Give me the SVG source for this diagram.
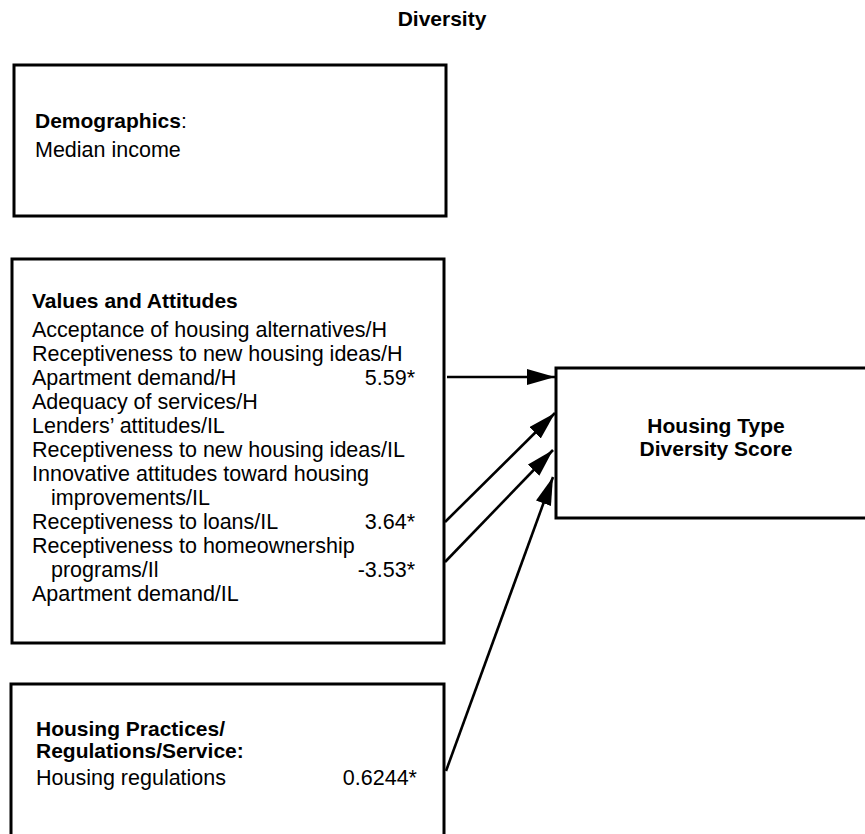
<svg xmlns="http://www.w3.org/2000/svg" width="865" height="834" viewBox="0 0 865 834">
<defs>
<style>
.box{fill:#fff;stroke:#000;stroke-width:3}
.t{font-family:"Liberation Sans",Arial,sans-serif;font-size:21.5px;fill:#000}
.b{font-family:"Liberation Sans",Arial,sans-serif;font-size:21px;font-weight:bold;fill:#000}
.c{stroke:#000;stroke-width:2.6;fill:none}
</style>
<marker id="ah" markerUnits="userSpaceOnUse" markerWidth="30" markerHeight="18" refX="28" refY="8" orient="auto">
<path d="M0,0 L28,8 L0,16 Z" fill="#000"/>
</marker>
</defs>
<rect width="865" height="834" fill="#fff"/>
<text class="b" x="442" y="26" text-anchor="middle">Diversity</text>
<g id="demographics">
<rect class="box" x="14" y="65" width="432" height="151"/>
<text class="b" x="35" y="128">Demographics<tspan font-weight="normal">:</tspan></text>
<text class="t" x="35" y="157">Median income</text>
</g>
<g id="values">
<rect class="box" x="12" y="259" width="432" height="384"/>
<text class="b" x="32" y="308">Values and Attitudes</text>
<text class="t" x="32" y="337">Acceptance of housing alternatives/H</text>
<text class="t" x="32" y="361">Receptiveness to new housing ideas/H</text>
<text class="t" x="32" y="385">Apartment demand/H</text>
<text class="t" x="415" y="385" text-anchor="end">5.59*</text>
<text class="t" x="32" y="409">Adequacy of services/H</text>
<text class="t" x="32" y="433">Lenders’ attitudes/IL</text>
<text class="t" x="32" y="457">Receptiveness to new housing ideas/IL</text>
<text class="t" x="32" y="481">Innovative attitudes toward housing</text>
<text class="t" x="51" y="505">improvements/IL</text>
<text class="t" x="32" y="529">Receptiveness to loans/IL</text>
<text class="t" x="415" y="529" text-anchor="end">3.64*</text>
<text class="t" x="32" y="553">Receptiveness to homeownership</text>
<text class="t" x="51" y="577">programs/Il</text>
<text class="t" x="415" y="577" text-anchor="end">-3.53*</text>
<text class="t" x="32" y="601">Apartment demand/IL</text>
</g>
<g id="practices">
<rect class="box" x="11" y="684" width="433" height="152"/>
<text class="b" x="36" y="736">Housing Practices/</text>
<text class="b" x="36" y="758">Regulations/Service:</text>
<text class="t" x="36" y="785">Housing regulations</text>
<text class="t" x="417" y="785" text-anchor="end">0.6244*</text>
</g>
<g id="score">
<rect class="box" x="556" y="368" width="314" height="150"/>
<text class="b" x="716" y="433" text-anchor="middle">Housing Type</text>
<text class="b" x="716" y="456" text-anchor="middle">Diversity Score</text>
</g>
<g id="connectors">
<line class="c" x1="447" y1="377" x2="555" y2="377" marker-end="url(#ah)"/>
<line class="c" x1="445" y1="522" x2="555" y2="413" marker-end="url(#ah)"/>
<line class="c" x1="445" y1="562" x2="553" y2="450" marker-end="url(#ah)"/>
<line class="c" x1="446" y1="771" x2="553" y2="477" marker-end="url(#ah)"/>
</g>
</svg>
